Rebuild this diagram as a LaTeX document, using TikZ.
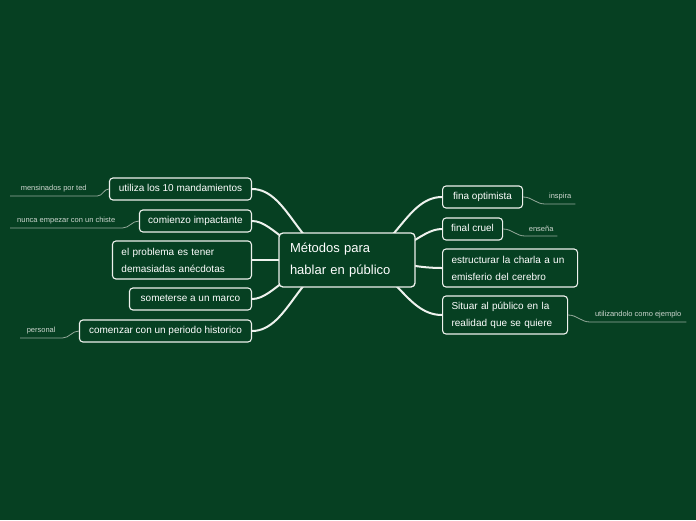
\documentclass[tikz,border=0pt]{standalone}
\usepackage{fontspec}
\setmainfont{Liberation Sans}
\definecolor{boardgreen}{RGB}{6,64,34}
\definecolor{chalk}{RGB}{238,242,238}
\definecolor{notegray}{RGB}{205,214,207}
\definecolor{tiegray}{RGB}{150,170,156}
\pgfdeclarelayer{background}
\pgfsetlayers{background,main}
\tikzset{
  hubnode/.style={draw=chalk, fill=boardgreen, line width=1.3pt, rounded corners=4pt, text=white,
    font=\fontsize{13}{22}\selectfont, align=left, text width=114pt, inner xsep=11pt, minimum height=54pt},
  topicnode/.style={draw=chalk, fill=boardgreen, line width=1.1pt, rounded corners=3.5pt, text=white,
    font=\fontsize{10}{17}\selectfont, minimum height=22pt, inner sep=0pt, text height=7.5pt, text depth=2pt},
  twolinenode/.style={draw=chalk, fill=boardgreen, line width=1.1pt, rounded corners=3.5pt, text=white,
    font=\fontsize{10}{17}\selectfont, align=left, inner xsep=9pt, minimum height=38pt},
  notelabel/.style={text=notegray, font=\fontsize{7.5}{9}\selectfont, inner sep=0pt, minimum height=14pt},
  branch/.style={draw=chalk, line width=2pt, line cap=round},
  tie/.style={draw=tiegray, line width=0.8pt}
}
\begin{document}
\begin{tikzpicture}[x=1pt, y=-1pt]
  % left topics
  \node[topicnode, minimum width=142pt, anchor=east] (k1) at (252,189) {utiliza los 10 mandamientos};
  \node[topicnode, minimum width=112pt, anchor=east] (k2) at (252,221) {comienzo impactante};
  \node[twolinenode, text width=121pt, anchor=east] (k3) at (252,260) {el problema es tener\\demasiadas anécdotas};
  \node[topicnode, minimum width=122pt, anchor=east] (k4) at (252,299) {someterse a un marco};
  \node[topicnode, minimum width=172pt, anchor=east] (k5) at (252,331) {comenzar con un periodo historico};

  % right topics
  \node[topicnode, minimum width=80pt, anchor=west] (r1) at (442,197) {fina optimista};
  \node[topicnode, minimum width=60pt, anchor=west] (r2) at (442,229) {final cruel};
  \node[twolinenode, text width=117pt, anchor=west] (r3) at (442,268) {estructurar la charla a un\\emisferio del cerebro};
  \node[twolinenode, text width=107pt, anchor=west] (r4) at (442,315) {Situar al público en la\\realidad que se quiere};

  % central topic
  \node[hubnode] (hub) at (347,260) {Métodos para\\hablar en público};

  % small notes
  \node[notelabel, minimum width=87pt, anchor=south west] (m1) at (10,196) {mensinados por ted};
  \node[notelabel, minimum width=112pt, anchor=south west] (m2) at (10,228) {nunca empezar con un chiste};
  \node[notelabel, minimum width=42pt, anchor=south west] (m3) at (20,338) {personal};
  \node[notelabel, minimum width=30pt, anchor=south west] (n1) at (545,204) {inspira};
  \node[notelabel, minimum width=32pt, anchor=south west] (n2) at (525,236) {enseña};
  \node[notelabel, minimum width=96pt, anchor=south west] (n3) at (590,322) {utilizandolo como ejemplo};

  \draw[tie] (k1.west) to[out=180, in=0] (m1.south east) -- (m1.south west);
  \draw[tie] (k2.west) to[out=180, in=0] (m2.south east) -- (m2.south west);
  \draw[tie] (k5.west) to[out=180, in=0] (m3.south east) -- (m3.south west);
  \draw[tie] (r1.east) to[out=0, in=180] (n1.south west) -- (n1.south east);
  \draw[tie] (r2.east) to[out=0, in=180] (n2.south west) -- (n2.south east);
  \draw[tie] (r4.east) to[out=0, in=180] (n3.south west) -- (n3.south east);

  \begin{pgfonlayer}{background}
    \fill[boardgreen] (0,0) rectangle (696,520);
    \draw[branch] (hub.center) .. controls (300,260) and (290,189) .. (k1.east);
    \draw[branch] (hub.center) .. controls (290,260) and (275,221) .. (k2.east);
    \draw[branch] (hub.center) -- (k3.east);
    \draw[branch] (hub.center) .. controls (290,260) and (275,299) .. (k4.east);
    \draw[branch] (hub.center) .. controls (300,260) and (290,331) .. (k5.east);
    \draw[branch] (hub.center) .. controls (394,260) and (404,197) .. (r1.west);
    \draw[branch] (hub.center) .. controls (404,260) and (419,229) .. (r2.west);
    \draw[branch] (hub.center) .. controls (400,260) and (410,268) .. (r3.west);
    \draw[branch] (hub.center) .. controls (394,260) and (404,315) .. (r4.west);
  \end{pgfonlayer}
\end{tikzpicture}
\end{document}
